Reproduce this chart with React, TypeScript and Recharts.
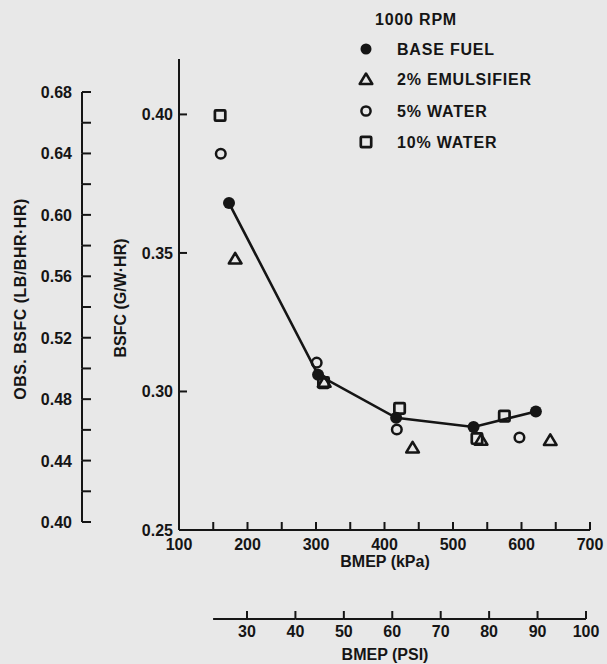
import React from 'react';
import { ComposedChart, Scatter, XAxis, YAxis } from 'recharts';

// BMEP (kPa) / BSFC (g/W-hr)
const baseFuelKpa = [173, 303, 417, 530, 621];
const baseFuelBsfc = [0.368, 0.306, 0.2905, 0.2872, 0.2928];
const emulsifierKpa = [182, 312, 441, 541, 642];
const emulsifierBsfc = [0.348, 0.3035, 0.2798, 0.2826, 0.2825];
const water5Kpa = [161, 301, 418, 597];
const water5Bsfc = [0.3858, 0.3104, 0.2863, 0.2834];
const water10Kpa = [160, 311, 422, 535, 575];
const water10Bsfc = [0.3996, 0.3032, 0.2939, 0.283, 0.2911];

const kpaTicks = [100, 150, 200, 250, 300, 350, 400, 450, 500, 550, 600, 650, 700];
const bsfcTicks = [0.25, 0.3, 0.35, 0.4];
const obsTicks = [0.4, 0.42, 0.44, 0.46, 0.48, 0.5, 0.52, 0.54, 0.56, 0.58, 0.6, 0.62, 0.64, 0.66, 0.68];
const psiTicks = [30, 40, 50, 60, 70, 80, 90, 100];

const legendItems = ['BASE FUEL', '2% EMULSIFIER', '5% WATER', '10% WATER'];

const KPA_PER_PSI = 6.895;

const INK = '#151515';
const PAPER = '#e8e8e8';
const FONT = '"Liberation Sans", Arial, sans-serif';

const W = 607;
const H = 664;
const MARGIN = { top: 59, right: 17, bottom: 0, left: 0 };
const OBS_W = 82;
const BSFC_W = 97;
const KPA_H = 89;
const PSI_H = 45;
const PLOT_W = W - MARGIN.left - MARGIN.right - OBS_W - BSFC_W;
const PLOT_H = H - MARGIN.top - KPA_H - PSI_H;

// secondary scales, lined up with the printed axes
const OBS_DOMAIN = [0.3948, 0.7015];
const PSI_DOMAIN = [15.96, 100.83];
const obsPx = PLOT_H / (OBS_DOMAIN[1] - OBS_DOMAIN[0]);
const psiPx = PLOT_W / (PSI_DOMAIN[1] - PSI_DOMAIN[0]);

const zip = (xs: number[], ys: number[]) => xs.map((x, i) => ({ x, y: ys[i] }));

const textStyle = { fontFamily: FONT, fontWeight: 700, fontSize: 16, fill: INK };

const FilledDot = ({ cx, cy }: any) => <circle cx={cx} cy={cy} r={6} fill={INK} />;
const Triangle = ({ cx, cy }: any) => (
  <polygon
    points={`${cx},${cy - 5.5} ${cx + 6.3},${cy + 5} ${cx - 6.3},${cy + 5}`}
    fill="none"
    stroke={INK}
    strokeWidth={2.6}
    strokeLinejoin="round"
  />
);
const Ring = ({ cx, cy }: any) => <circle cx={cx} cy={cy} r={4.8} fill="none" stroke={INK} strokeWidth={2.5} />;
const Box = ({ cx, cy }: any) => (
  <rect x={cx - 5.2} y={cy - 5.2} width={10.4} height={10.4} rx={1} fill="none" stroke={INK} strokeWidth={2.7} />
);
const NoMark = () => <g />;

const BsfcTick = ({ x, y, payload }: any) => (
  <g>
    {payload.value > 0.25 && <line x1={x} y1={y} x2={x + 8} y2={y} stroke={INK} strokeWidth={2} />}
    <text x={x - 6} y={y} dy={6} textAnchor="end" {...textStyle}>
      {payload.value.toFixed(2)}
    </text>
  </g>
);

const ObsTick = ({ x, y, payload }: any) => {
  const v = payload.value;
  const major = Math.round(v * 100) % 4 === 0;
  return (
    <g>
      <line x1={x} y1={y} x2={x + 9} y2={y} stroke={INK} strokeWidth={2} />
      {v < 0.675 && <line x1={x} y1={y} x2={x} y2={y - 0.02 * obsPx} stroke={INK} strokeWidth={2} />}
      {major && (
        <text x={x - 10} y={y} dy={6} textAnchor="end" {...textStyle}>
          {v.toFixed(2)}
        </text>
      )}
    </g>
  );
};

const KpaTick = ({ x, y, payload }: any) => {
  const v = payload.value;
  return (
    <g>
      {v > 100 && <line x1={x} y1={y} x2={x} y2={y - 8} stroke={INK} strokeWidth={2} />}
      {v % 100 === 0 && (
        <text x={x} y={y} dy={20} textAnchor="middle" {...textStyle}>
          {v}
        </text>
      )}
    </g>
  );
};

const PsiTick = ({ x, y, payload }: any) => {
  const v = payload.value;
  const back = (v === psiTicks[0] ? 7 : 10) * psiPx;
  return (
    <g>
      <line x1={x} y1={y} x2={x} y2={y - 8} stroke={INK} strokeWidth={2} />
      <line x1={x - back} y1={y} x2={x} y2={y} stroke={INK} strokeWidth={2} />
      <text x={x} y={y} dy={18} textAnchor="middle" {...textStyle}>
        {v}
      </text>
    </g>
  );
};

const legendMarks = [
  <circle cx={8} cy={8} r={5.5} fill={INK} />,
  <polygon points="8,2.5 14.3,13 1.7,13" fill="none" stroke={INK} strokeWidth={2.5} strokeLinejoin="round" />,
  <circle cx={8} cy={8} r={4.6} fill="none" stroke={INK} strokeWidth={2.5} />,
  <rect x={2.8} y={2.8} width={10.4} height={10.4} rx={1} fill="none" stroke={INK} strokeWidth={2.7} />,
];
const legendRows = [48.5, 79, 111, 141.5];

const label = (extra: React.CSSProperties): React.CSSProperties => ({
  position: 'absolute',
  fontFamily: FONT,
  fontWeight: 700,
  fontSize: 16,
  color: INK,
  whiteSpace: 'nowrap',
  lineHeight: 1,
  ...extra,
});

export default function App() {
  return (
    <div style={{ position: 'absolute', left: 0, top: 0, width: W, height: H, background: PAPER, overflow: 'hidden' }}>
      <ComposedChart width={W} height={H} margin={MARGIN}>
        <XAxis
          xAxisId="kpa"
          type="number"
          dataKey="x"
          domain={[100, 700]}
          ticks={kpaTicks}
          interval={0}
          allowDataOverflow
          height={KPA_H}
          tickSize={0}
          tickMargin={0}
          tickLine={false}
          axisLine={{ stroke: INK, strokeWidth: 2 }}
          tick={<KpaTick />}
        />
        <XAxis
          xAxisId="psi"
          type="number"
          dataKey="x"
          domain={PSI_DOMAIN}
          ticks={psiTicks}
          interval={0}
          allowDataOverflow
          height={PSI_H}
          tickSize={0}
          tickMargin={0}
          tickLine={false}
          axisLine={false}
          tick={<PsiTick />}
        />
        <YAxis
          yAxisId="bsfc"
          type="number"
          dataKey="y"
          domain={[0.25, 0.42]}
          ticks={bsfcTicks}
          interval={0}
          allowDataOverflow
          width={BSFC_W}
          tickSize={0}
          tickMargin={0}
          tickLine={false}
          axisLine={{ stroke: INK, strokeWidth: 2 }}
          tick={<BsfcTick />}
        />
        <YAxis
          yAxisId="obs"
          type="number"
          domain={OBS_DOMAIN}
          ticks={obsTicks}
          interval={0}
          allowDataOverflow
          width={OBS_W}
          tickSize={0}
          tickMargin={0}
          tickLine={false}
          axisLine={false}
          tick={<ObsTick />}
        />
        {/* invisible copy of the base fuel run in PSI, so the PSI scale gets drawn */}
        <Scatter
          xAxisId="psi"
          yAxisId="bsfc"
          data={zip(baseFuelKpa.map((k) => k / KPA_PER_PSI), baseFuelBsfc)}
          shape={<NoMark />}
          isAnimationActive={false}
        />
        <Scatter
          xAxisId="kpa"
          yAxisId="bsfc"
          data={zip(baseFuelKpa, baseFuelBsfc)}
          line={{ stroke: INK, strokeWidth: 2.6 }}
          lineType="joint"
          shape={<FilledDot />}
          isAnimationActive={false}
        />
        <Scatter
          xAxisId="kpa"
          yAxisId="bsfc"
          data={zip(emulsifierKpa, emulsifierBsfc)}
          shape={<Triangle />}
          isAnimationActive={false}
        />
        <Scatter
          xAxisId="kpa"
          yAxisId="bsfc"
          data={zip(water5Kpa, water5Bsfc)}
          shape={<Ring />}
          isAnimationActive={false}
        />
        <Scatter
          xAxisId="kpa"
          yAxisId="bsfc"
          data={zip(water10Kpa, water10Bsfc)}
          shape={<Box />}
          isAnimationActive={false}
        />
      </ComposedChart>

      <div style={label({ left: 375, top: 12, letterSpacing: 0.8 })}>1000 RPM</div>
      {legendItems.map((name, i) => (
        <React.Fragment key={name}>
          <svg width={16} height={16} style={{ position: 'absolute', left: 358, top: legendRows[i] - 8 }}>
            {legendMarks[i]}
          </svg>
          <div style={label({ left: 397, top: legendRows[i] - 7, letterSpacing: 0.8 })}>{name}</div>
        </React.Fragment>
      ))}

      <div style={label({ left: 385, top: 562, transform: 'translate(-50%, -50%)' })}>BMEP (kPa)</div>
      <div style={label({ left: 385, top: 655, transform: 'translate(-50%, -50%)' })}>BMEP (PSI)</div>
      <div style={label({ left: 21, top: 299, transform: 'translate(-50%, -50%) rotate(-90deg)', letterSpacing: 0.5 })}>
        OBS. BSFC (LB/BHR·HR)
      </div>
      <div style={label({ left: 121, top: 298, transform: 'translate(-50%, -50%) rotate(-90deg)' })}>BSFC (G/W·HR)</div>
    </div>
  );
}
